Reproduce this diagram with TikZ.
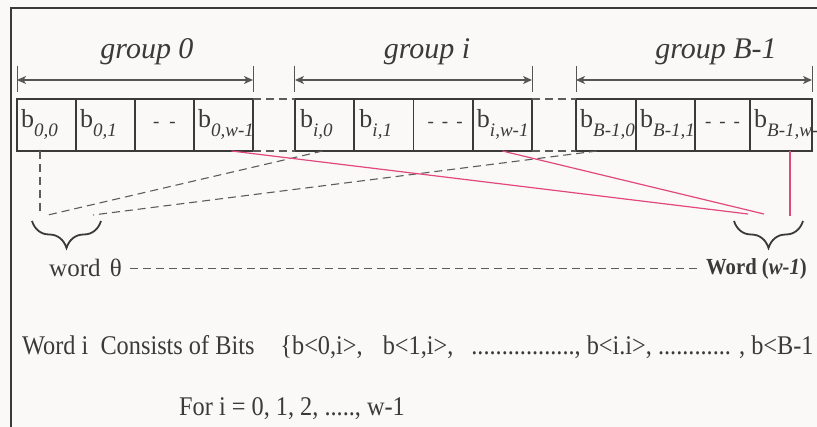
\documentclass[tikz,border=0pt]{standalone}
\usepackage{fontspec}
\setmainfont{Liberation Serif}
\newfontfamily\narrowserif{Liberation Serif}[FakeStretch=0.9]
\usetikzlibrary{arrows.meta,decorations.pathreplacing}
\definecolor{framegray}{HTML}{3A3A3A}
\definecolor{dimgray}{HTML}{555555}
\definecolor{dashgray}{HTML}{5C5C5C}
\definecolor{linkred}{HTML}{E2487F}
\definecolor{paper}{HTML}{FAF9F7}
\newcommand{\bitsub}[1]{\raisebox{-9pt}{\fontsize{19}{19}\selectfont\itshape #1}}
\tikzset{
  bitcell/.style={draw=framegray, line width=1.6pt, minimum height=52pt, inner sep=0pt, outer sep=0pt},
  bitlbl/.style={anchor=base west, inner sep=0pt, text=framegray, font=\fontsize{26}{26}\selectfont},
  gaplbl/.style={anchor=base, inner sep=0pt, text=framegray, font=\fontsize{19}{19}\selectfont\itshape},
  grouplbl/.style={anchor=base, inner sep=0pt, text=framegray, font=\fontsize{30}{30}\selectfont\itshape},
  dimtick/.style={draw=dimgray, line width=1pt},
  dimarrow/.style={{Stealth[length=9pt,width=8pt,inset=2.5pt]}-{Stealth[length=9pt,width=8pt,inset=2.5pt]}, draw=dimgray, line width=1.3pt},
  linkdash/.style={draw=dashgray, line width=1.1pt, dash pattern=on 8pt off 5pt},
  pinklink/.style={draw=linkred, line width=1.2pt},
  wordbrace/.style={decorate, decoration={brace, mirror, amplitude=27pt}, draw=framegray, line width=1.8pt},
  wordlbl/.style={inner sep=2pt, text=framegray, font=\fontsize{25}{25}\selectfont},
  ruletext/.style={anchor=base west, inner sep=0pt, text=framegray, font=\narrowserif\fontsize{27}{27}\selectfont}
}
\begin{document}
\begin{tikzpicture}[x=1pt, y=-1pt]
  \useasboundingbox (0,0) rectangle (817,427);
  \fill[paper] (0,0) rectangle (817,427);

  % outer frame (runs off the page)
  \draw[framegray, line width=2pt] (11,440) -- (11,8) -- (830,8);

  % group 0
  \node[bitcell, minimum width=59pt] (g0a) at (46.5,125) {};
  \node[bitcell, minimum width=59pt] (g0b) at (105.5,125) {};
  \node[bitcell, minimum width=59pt] (g0c) at (164.5,125) {};
  \node[bitcell, minimum width=59pt] (g0d) at (223.5,125) {};
  \node[bitlbl] (t0a) at ([xshift=4pt,yshift=-3pt]g0a.west) {b\bitsub{0,0}};
  \node[bitlbl] (t0b) at ([xshift=4pt,yshift=-3pt]g0b.west) {b\bitsub{0,1}};
  \node[gaplbl] (t0c) at ([yshift=-3pt]g0c.center) {-\hspace{10pt}-};
  \node[bitlbl] (t0d) at ([xshift=4pt,yshift=-3pt]g0d.west) {b\bitsub{0,w-1}};

  % group i
  \node[bitcell, minimum width=59.25pt] (gia) at (324.6,125) {};
  \node[bitcell, minimum width=59.25pt] (gib) at (383.9,125) {};
  \node[bitcell, minimum width=59.25pt] (gic) at (443.1,125) {};
  \node[bitcell, minimum width=59.25pt] (gid) at (502.4,125) {};
  \node[bitlbl] (tia) at ([xshift=5pt,yshift=-3pt]gia.west) {b\bitsub{i,0}};
  \node[bitlbl] (tib) at ([xshift=5pt,yshift=-3pt]gib.west) {b\bitsub{i,1}};
  \node[gaplbl] (tic) at ([xshift=2pt,yshift=-3pt]gic.center) {-\hspace{8pt}-\hspace{8pt}-};
  \node[bitlbl] (tid) at ([xshift=4pt,yshift=-3pt]gid.west) {b\bitsub{i,w-1}};

  % group B-1
  \node[bitcell, minimum width=60pt] (gBa) at (606,125) {};
  \node[bitcell, minimum width=59pt] (gBb) at (665.5,125) {};
  \node[bitcell, minimum width=55pt] (gBc) at (722.5,125) {};
  \node[bitcell, minimum width=62pt] (gBd) at (781,125) {};
  \node[bitlbl] (tBa) at ([xshift=4pt,yshift=-3pt]gBa.west) {b\bitsub{B-1,0}};
  \node[bitlbl] (tBb) at ([xshift=4pt,yshift=-3pt]gBb.west) {b\bitsub{B-1,1}};
  \node[gaplbl] (tBc) at ([yshift=-3pt]gBc.center) {-\hspace{8pt}-\hspace{8pt}-};
  \node[bitlbl] (tBd) at ([xshift=4pt,yshift=-3pt]gBd.west) {b\bitsub{B-1,w-1}};

  % dashed joins between groups
  \draw[linkdash] (g0d.north east) -- (gia.north west);
  \draw[linkdash] (g0d.south east) -- (gia.south west);
  \draw[linkdash] (gid.north east) -- (gBa.north west);
  \draw[linkdash] (gid.south east) -- (gBa.south west);

  % group widths
  \foreach \cl/\cr in {g0a/g0d, gia/gid, gBa/gBd} {
    \draw[dimtick] ([yshift=7pt]\cl.north west) -- ++(0,-26);
    \draw[dimtick] ([yshift=7pt]\cr.north east) -- ++(0,-26);
    \draw[dimarrow] ([yshift=19pt]\cl.north west) -- ([yshift=19pt]\cr.north east);
  }
  \node[grouplbl] (lbl0) at (147,59) {group 0};
  \node[grouplbl] (lbli) at (427,59) {group i};
  \node[grouplbl] (lblB) at (716,59) {group B-1};

  % ends of the links
  \coordinate (w0top) at (40,215);
  \coordinate (w0mid) at (48,215);
  \coordinate (w0end) at (93,215);
  \coordinate (wLa) at (748,214);
  \coordinate (wLb) at (764,214);
  \coordinate (wLc) at (790,216);

  % first bits -> word 0
  \draw[linkdash] (g0a.south -| w0top) -- (w0top);
  \draw[linkdash] ([xshift=-2pt]gia.south) -- (w0mid);
  \draw[linkdash] ([xshift=-9pt]gBa.south) -- (w0end);

  % last bits -> word w-1
  \draw[pinklink] ([xshift=8pt]g0d.south) -- (wLa);
  \draw[pinklink] (gid.south) -- (wLb);
  \draw[pinklink] ([xshift=9pt]gBd.south) -- (wLc);

  % braces
  \coordinate (br0a) at (32,221);
  \coordinate (br0b) at (101,221);
  \coordinate (brLa) at (734,221);
  \coordinate (brLb) at (803,221);
  \draw[wordbrace] (br0a) -- (br0b);
  \draw[wordbrace] (brLa) -- (brLb);

  % word labels
  \node[wordlbl, anchor=base west] (word0) at (47,277) {word\hspace{3pt} θ};
  \node[wordlbl, anchor=base east, font=\narrowserif\fontsize{23}{23}\selectfont\bfseries] (wordL) at (809,275) {Word (\textit{w-1})};
  \draw[linkdash, shorten <=6pt, shorten >=4pt] (word0.east) -- (word0.east -| wordL.west);

  % explanatory text
  \node[ruletext] (bitrule) at (22,355) {Word i\ \ Consists of Bits\hspace{26pt}\{b<0,i>,\hspace{20pt}b<1,i>,\hspace{18pt}.................,\ b<i.i>,\ ............ ,\ b<B-1};
  \node[ruletext] (range) at (179,416) {For i = 0, 1, 2, ....., w-1};
\end{tikzpicture}
\end{document}
